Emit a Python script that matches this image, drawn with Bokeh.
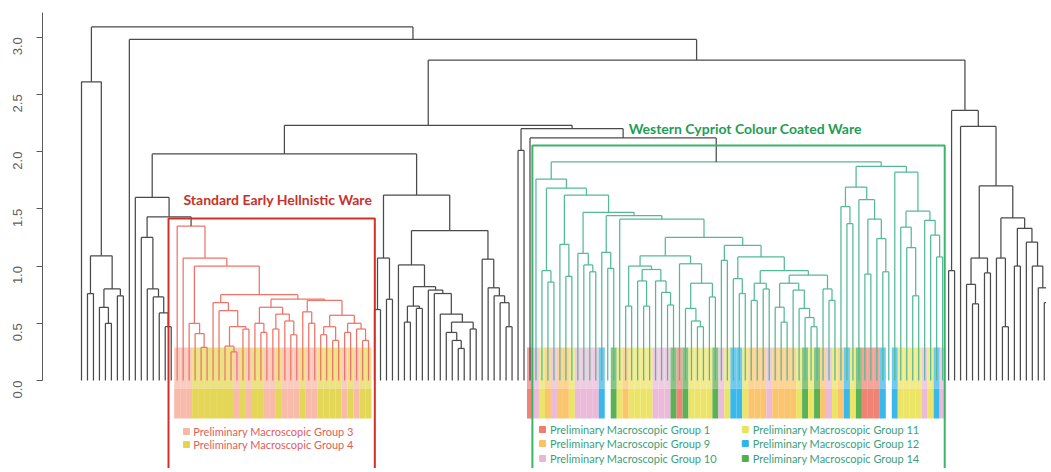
import re
from bokeh.plotting import figure
from bokeh.models import Range1d, FixedTicker, ColumnDataSource, PrintfTickFormatter
from bokeh.core.properties import value
from bokeh.embed import file_html
from bokeh.resources import INLINE

# ---------------- data: dendrogram (Newick-like, 'x' = leaf, ':h' = merge height) ----
LEFT_A = "(x,((x,x):0.76,((x,(x,x):0.50):0.64,(x,x):0.74):0.80):1.09):2.61"
LEFT_B = "(x,(x,(x,(x,(x,x):0.47):0.59):0.73):0.80):1.25"

RED_B1 = "(x,(x,((x,(x,x):0.25):0.30,(x,x):0.45):0.47):0.61):0.68"
RED_C = "((x,(x,x):0.42):0.50,((x,x):0.45,(x,(x,x):0.40):0.52):0.58):0.64"
RED_D = ("((x,(x,x):0.50):0.60,(((x,x):0.40,(x,x):0.35):0.47,((x,x):0.42,(x,(x,x):0.35):0.45)"
         ":0.50):0.57):0.70")
RED = ("R(x,(x,((x,(x,(x,x):0.29):0.41):0.50,(" + RED_B1 + ",(" + RED_C + "," + RED_D
       + "):0.71):0.75):1.00):1.07):1.35")

MID_1 = "((x,x):0.62,(x,x):0.71):1.07"
MID_21 = ("(x,(((x,x):0.51,(x,x):0.63):0.65,(x,(x,(x,((x,(x,(x,x):0.28):0.35):0.42,"
          "(x,x):0.45):0.51):0.58):0.76):0.79):0.82):1.01")
MID_22 = "(x,(x,(x,(x,(x,x):0.47):0.68):0.74):0.81):1.06"
MID = "(" + MID_1 + ",(" + MID_21 + "," + MID_22 + "):1.31):1.62"

G_K = "(x,(x,x):0.86):0.96"
G_CL = "(x,(x,x):0.91):1.19"
G_DL = "(x,(x,(x,x):0.95):1.01):1.11"
G_EL = "(x,(x,x):0.98):1.12"
G_GL = ("(((x,x):0.65,((x,(x,x):0.65):0.87,(x,(x,(x,x):0.66):0.77):0.87):0.97):1.00,"
        "(x,((x,(x,(x,x):0.47):0.52):0.63,(x,x):0.73):0.85):1.02):1.09")
G_GR = ("((x,x):1.05,((x,(x,x):0.76):0.89,(((x,x):0.70,(x,x):0.80):0.85,(((x,(x,x):0.51):0.64,"
        "(x,(x,(x,(x,x):0.47):0.55):0.63):0.79):0.85,(x,(x,x):0.70):0.80):0.92):0.96):1.08):1.18")
G_R1 = "((x,(x,x):1.37):1.52,(x,((x,x):0.93,(x,(x,x):0.95):1.24):1.41):1.58):1.69"
G_R2 = "(x,((x,(x,(x,x):0.74):1.16):1.34,(x,(x,(x,x):1.08):1.27):1.40):1.48):1.82"
G_LEFT = ("(x,(" + G_K + ",(" + G_CL + ",(" + G_DL + ",(" + G_EL + ",(x,(" + G_GL + ","
          + G_GR + "):1.25):1.41):1.44):1.47):1.62):1.68):1.76")
GREEN = "G(" + G_LEFT + ",(" + G_R1 + "," + G_R2 + "):1.87):1.91"

RIGHT = ("((x,x):0.96,(x,(((x,(x,x):0.67):0.84,(x,x):0.94):1.07,((x,(x,x):0.47):1.07,"
         "((x,x):1.00,(x,(x,(x,(x,x):0.68):0.81):1.00):1.21):1.33):1.42):1.70):2.22):2.36")

TREE = ("(" + LEFT_A + ",(x,((((x,(" + LEFT_B + "," + RED + "):1.43):1.60," + MID + "):1.98,"
        "((x,x):2.01,(x," + GREEN + "):2.12):2.20):2.23," + RIGHT + "):2.80):2.98):3.09")

# group of each leaf inside the two boxes (left to right)
red_groups = [3, 3, 3, 4, 4, 4, 4, 4, 4, 4, 3, 4, 3, 4, 4, 3, 3, 4, 3, 3, 3, 4, 3, 3,
              4, 4, 4, 4, 3, 4, 3, 4, 4]
green_groups = [1,
                10, 11, 9, 10, 9, 9, 11, 10, 10, 10, 10, 12, 0, 14, 11, 9, 11, 11, 11, 11,
                10, 10, 10, 14, 1, 14, 11, 11, 11, 11, 14, 10, 11, 12, 12, 11, 9, 9, 9, 10,
                9, 9, 9, 9, 11, 14, 11, 14, 9, 10, 11, 9, 12, 11, 14, 1, 1, 1, 12, 0,
                12, 11, 11, 11, 11, 10, 11, 12, 10]
group_colors = {1: "#ef7d6d", 3: "#f8b7a5", 4: "#e3d54e", 9: "#fbc266", 10: "#eab6d7",
                11: "#ebe35e", 12: "#2fb4ea", 14: "#52ad4d"}
red_legend_groups = [3, 4]
green_legend_groups = [1, 9, 10, 11, 12, 14]
red_title = "Standard Early Hellnistic Ware"
green_title = "Western Cypriot Colour Coated Ware"
y_ticks = [0.0, 0.5, 1.0, 1.5, 2.0, 2.5, 3.0]

# ---------------- tree parsing and layout ----------------
def parse(s):
    s = s.replace(" ", "")
    pos = 0

    def node():
        nonlocal pos
        tag = None
        if s[pos] in "RG":
            tag = s[pos]
            pos += 1
        if s[pos] == "x":
            pos += 1
            return {"h": 0.0, "kids": None, "tag": tag}
        assert s[pos] == "("
        pos += 1
        left = node()
        assert s[pos] == ","
        pos += 1
        right = node()
        assert s[pos] == ")"
        pos += 1
        assert s[pos] == ":"
        pos += 1
        m = re.match(r"[0-9.]+", s[pos:])
        pos += len(m.group())
        return {"h": float(m.group()), "kids": [left, right], "tag": tag}

    return node()


GRAY, RED_C_, GREEN_C_ = "#4a4a4a", "#ee7468", "#55b998"
TAG_COLOR = {"R": RED_C_, "G": GREEN_C_}
segs = dict(x0=[], y0=[], x1=[], y1=[], color=[])
cluster_leaves = {"R": [], "G": []}
counter = [0]


def layout(n, color, cl):
    col = TAG_COLOR.get(n["tag"], color)
    cl = n["tag"] or cl
    if n["kids"] is None:
        i = counter[0]
        counter[0] += 1
        if cl:
            cluster_leaves[cl].append(i)
        return float(i), 0.0
    xl, hl = layout(n["kids"][0], col, cl)
    xr, hr = layout(n["kids"][1], col, cl)
    h = n["h"]
    for a in ((xl, h, xr, h), (xl, h, xl, hl), (xr, h, xr, hr)):
        segs["x0"].append(a[0]); segs["y0"].append(a[1])
        segs["x1"].append(a[2]); segs["y1"].append(a[3])
        segs["color"].append(col)
    return (xl + xr) / 2.0, h


root = parse(TREE)
layout(root, GRAY, None)
N = counter[0]

# ---------------- figure geometry (page pixels of the reference) ----------------
PITCH = 5.98          # px per leaf
X0_PX = 81.0          # page x of first leaf
Y0_PX = 380.0         # page y of height 0
PPU = 114.44          # px per height unit
W, H = 1046, 468
LEFT_BORDER = 42


def xd(px):
    return (px - X0_PX) / PITCH


def yd(py):
    return (Y0_PX - py) / PPU


p = figure(width=W, height=H, output_backend="svg", toolbar_location=None,
           x_range=Range1d(xd(LEFT_BORDER), xd(W)),
           y_range=Range1d(yd(H), yd(0)),
           x_axis_location=None, min_border_left=LEFT_BORDER, min_border_right=0,
           min_border_top=0, min_border_bottom=0)
p.outline_line_color = None
p.xgrid.visible = False
p.ygrid.visible = False
p.background_fill_color = "white"

ax = p.yaxis[0]
ax.ticker = FixedTicker(ticks=y_ticks)
ax.formatter = PrintfTickFormatter(format="%.1f")
ax.bounds = (0, yd(12))
ax.axis_line_color = "#5a5a5a"
ax.major_tick_line_color = "#5a5a5a"
ax.minor_tick_line_color = None
ax.major_tick_out = 6
ax.major_tick_in = 0
ax.major_label_orientation = 3.14159265 / 2
ax.major_label_standoff = 19
ax.major_label_text_font = "Liberation Sans"
ax.major_label_text_font_size = "13px"
ax.major_label_text_color = "#606060"

# ---------------- colour bands under the leaves ----------------
band_top, band_mid, band_bot = yd(347), yd(388), yd(418)
bx, bc = [], []
for idx, g in zip(cluster_leaves["R"], red_groups):
    bx.append(idx); bc.append(group_colors[g])
g_idx = [cluster_leaves["G"][0] - 1] + cluster_leaves["G"]
for idx, g in zip(g_idx, green_groups):
    if g:
        bx.append(idx); bc.append(group_colors[g])
p.quad(left=[v - 0.5 for v in bx], right=[v + 0.5 for v in bx], top=band_top,
       bottom=band_mid, fill_color=bc, line_color=None, fill_alpha=0.7)
p.quad(left=[v - 0.5 for v in bx], right=[v + 0.5 for v in bx], top=band_mid,
       bottom=band_bot, fill_color=bc, line_color=None, fill_alpha=0.95)

# ---------------- dendrogram ----------------
p.segment(x0="x0", y0="y0", x1="x1", y1="y1", color="color", line_width=1.25,
          source=ColumnDataSource(segs))

# ---------------- boxes ----------------
r0, r1 = cluster_leaves["R"][0], cluster_leaves["R"][-1]
g0, g1 = cluster_leaves["G"][0], cluster_leaves["G"][-1]
p.quad(left=[r0 - 1.45], right=[r1 + 1.05], top=[yd(218)], bottom=[-1.5],
       fill_color=None, line_color="#d32f2a", line_width=2)
p.quad(left=[g0 - 0.6], right=[g1 + 0.35], top=[yd(145)], bottom=[-1.5],
       fill_color=None, line_color="#3bb46c", line_width=2)

# ---------------- titles ----------------
p.text(x=[r0 + 1.05], y=[yd(199)], text=[red_title], text_font=value("Lato"),
       text_font_style="bold", text_font_size="14px", text_color="#c9302c",
       text_baseline="middle", text_align="left")
p.text(x=[g0 + 15.5], y=[yd(128)], text=[green_title], text_font=value("Lato"),
       text_font_style="bold", text_font_size="14px", text_color="#1f9d55",
       text_baseline="middle", text_align="left")

# ---------------- legends ----------------
rl_y = [yd(431), yd(444)]
rl_x = r0 + 1.55
p.scatter(x=[rl_x] * 2, y=rl_y, marker="square", size=6,
          color=[group_colors[g] for g in red_legend_groups])
p.text(x=[rl_x + 1.15] * 2, y=rl_y,
       text=["Preliminary Macroscopic Group %d" % g for g in red_legend_groups],
       text_font=value("Lato"), text_font_size="11px", text_color="#e0605a",
       text_baseline="middle", text_align="left")

gl_rows = [yd(429), yd(443), yd(458)]
gl_x = [g0 + 1.1, g0 + 35.0]
lx, ly, lc, lt = [], [], [], []
for k, g in enumerate(green_legend_groups):
    lx.append(gl_x[k // 3]); ly.append(gl_rows[k % 3])
    lc.append(group_colors[g]); lt.append("Preliminary Macroscopic Group %d" % g)
p.scatter(x=lx, y=ly, marker="square", size=6, color=lc)
p.text(x=[v + 1.25 for v in lx], y=ly, text=lt, text_font=value("Lato"),
       text_font_size="11px", text_color="#3a9f7c", text_baseline="middle",
       text_align="left")

open("out.html", "w").write(file_html(p, INLINE))
